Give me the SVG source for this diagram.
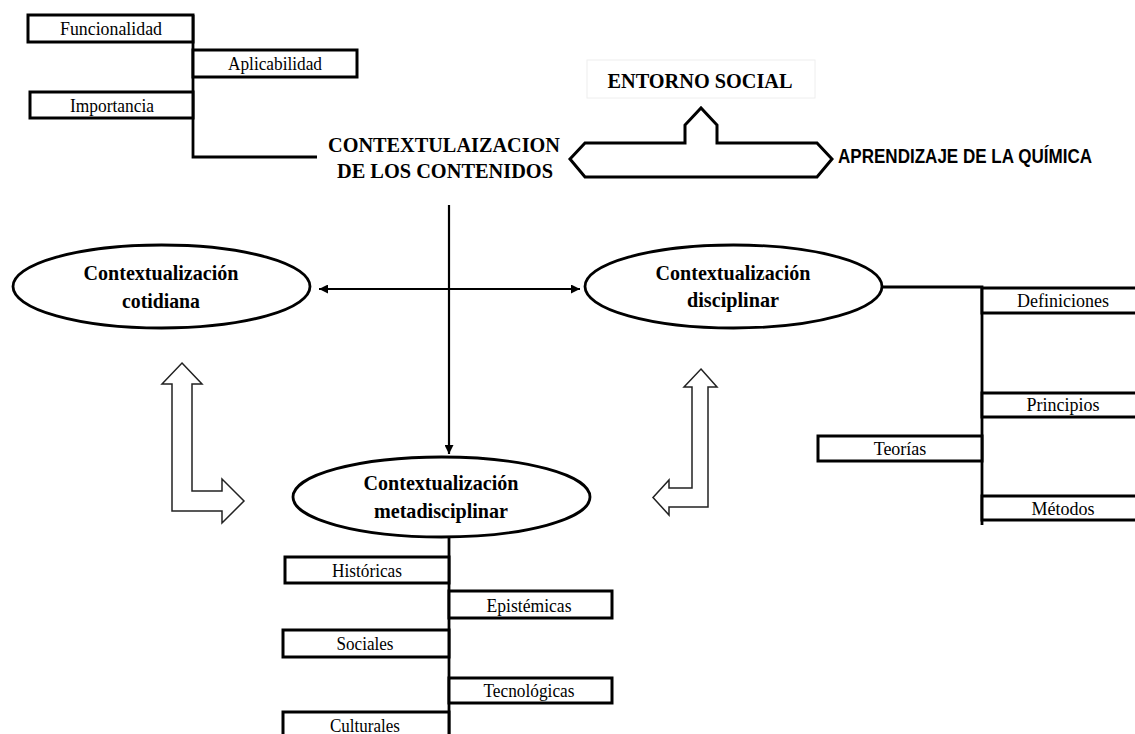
<svg xmlns="http://www.w3.org/2000/svg" width="1135" height="734" viewBox="0 0 1135 734">
<style>
.box{fill:#fff;stroke:#000;stroke-width:3}
.ell{fill:#fff;stroke:#000;stroke-width:2.8}
.ln{fill:none;stroke:#000;stroke-width:2.8}
.hol{fill:#fff;stroke:#222;stroke-width:1.5;stroke-linejoin:miter}
.lbl{font-family:"Liberation Serif","Times New Roman",serif;font-size:18px;fill:#000;text-anchor:middle}
.bt{font-family:"Liberation Serif","Times New Roman",serif;font-size:22px;font-weight:bold;fill:#000;text-anchor:middle}
.sans{font-family:"Liberation Sans",Arial,sans-serif;font-size:20px;font-weight:bold;fill:#000}
</style>
<defs>
<marker id="arr" viewBox="0 0 10 10" refX="10" refY="5" markerWidth="9" markerHeight="9" markerUnits="userSpaceOnUse" orient="auto-start-reverse">
<path d="M0,0 L10,5 L0,10 Z" fill="#000"/>
</marker>
</defs>
<rect width="1135" height="734" fill="#fff"/>

<g id="connectors">
<polyline class="ln" points="193,15 193,157 317,157"/>
<line x1="449" y1="205" x2="449" y2="454" stroke="#000" stroke-width="2.2" marker-end="url(#arr)"/>
<line x1="319" y1="289" x2="580" y2="289" stroke="#000" stroke-width="2.2" marker-start="url(#arr)" marker-end="url(#arr)"/>
<polyline class="ln" points="882,287 982,287 982,525"/>
<line class="ln" x1="449" y1="537" x2="449" y2="734"/>
<polygon id="arrow-left" class="hol" points="182,363 202,384 192,384 192,491 222,491 222,479 244,501 222,523 222,511 172,511 172,384 162,384"/>
<polygon id="arrow-right" class="hol" points="701,369 717,387 708,387 708,507 669,507 669,515 653,497.5 669,480 669,488 692,488 692,387 684,387"/>
</g>

<g id="funcionalidad"><rect class="box" x="28" y="15" width="165" height="27"/><text class="lbl" x="111" y="35" textLength="102" lengthAdjust="spacingAndGlyphs">Funcionalidad</text></g>
<g id="aplicabilidad"><rect class="box" x="193" y="50" width="164" height="27"/><text class="lbl" x="275" y="70" textLength="94" lengthAdjust="spacingAndGlyphs">Aplicabilidad</text></g>
<g id="importancia"><rect class="box" x="30" y="92" width="163" height="26"/><text class="lbl" x="112" y="112" textLength="84" lengthAdjust="spacingAndGlyphs">Importancia</text></g>

<g id="contextualizacion">
<text class="bt" x="444" y="152" textLength="232" lengthAdjust="spacingAndGlyphs">CONTEXTULAIZACION</text>
<text class="bt" x="445" y="178" textLength="216" lengthAdjust="spacingAndGlyphs">DE LOS CONTENIDOS</text>
</g>

<g id="entorno">
<rect x="587" y="60" width="228" height="38" fill="#fff" stroke="#eee" stroke-width="1"/>
<text class="bt" x="700" y="88" textLength="185" lengthAdjust="spacingAndGlyphs">ENTORNO SOCIAL</text>
</g>

<g id="hexagono">
<path d="M570,159 L585,143 L685,143 L685,125 L701,108 L717,125 L717,143 L817,143 L832,159 L817,177 L585,177 Z" fill="#fff" stroke="#000" stroke-width="3" stroke-linejoin="miter"/>
</g>

<g id="aprendizaje">
<text class="sans" x="838" y="163" textLength="254" lengthAdjust="spacingAndGlyphs">APRENDIZAJE DE LA QUÍMICA</text>
</g>

<g id="cotidiana">
<ellipse class="ell" cx="161.5" cy="286.5" rx="148.5" ry="41.5"/>
<text class="bt" x="161" y="280" textLength="155" lengthAdjust="spacingAndGlyphs">Contextualización</text>
<text class="bt" x="161" y="308" textLength="78" lengthAdjust="spacingAndGlyphs">cotidiana</text>
</g>

<g id="disciplinar">
<ellipse class="ell" cx="733.5" cy="286.5" rx="148.5" ry="41.5"/>
<text class="bt" x="733" y="280" textLength="155" lengthAdjust="spacingAndGlyphs">Contextualización</text>
<text class="bt" x="733" y="307" textLength="92" lengthAdjust="spacingAndGlyphs">disciplinar</text>
</g>

<g id="metadisciplinar">
<ellipse class="ell" cx="441.5" cy="497" rx="148.5" ry="40"/>
<text class="bt" x="441" y="490" textLength="155" lengthAdjust="spacingAndGlyphs">Contextualización</text>
<text class="bt" x="441" y="518" textLength="134" lengthAdjust="spacingAndGlyphs">metadisciplinar</text>
</g>

<g id="definiciones"><rect class="box" x="982" y="288" width="160" height="25"/><text class="lbl" x="1063" y="307">Definiciones</text></g>
<g id="principios"><rect class="box" x="982" y="393" width="160" height="24"/><text class="lbl" x="1063" y="411">Principios</text></g>
<g id="teorias"><rect class="box" x="818" y="436" width="164" height="25"/><text class="lbl" x="900" y="455">Teorías</text></g>
<g id="metodos"><rect class="box" x="982" y="496" width="160" height="24"/><text class="lbl" x="1063" y="515">Métodos</text></g>

<g id="historicas"><rect class="box" x="285" y="557" width="164" height="26"/><text class="lbl" x="367" y="577" textLength="70" lengthAdjust="spacingAndGlyphs">Históricas</text></g>
<g id="epistemicas"><rect class="box" x="449" y="591" width="163" height="27"/><text class="lbl" x="529" y="612" textLength="85" lengthAdjust="spacingAndGlyphs">Epistémicas</text></g>
<g id="sociales"><rect class="box" x="283" y="630" width="166" height="27"/><text class="lbl" x="365" y="650" textLength="57" lengthAdjust="spacingAndGlyphs">Sociales</text></g>
<g id="tecnologicas"><rect class="box" x="449" y="678" width="163" height="25"/><text class="lbl" x="529" y="697" textLength="91" lengthAdjust="spacingAndGlyphs">Tecnológicas</text></g>
<g id="culturales"><rect class="box" x="283" y="712" width="166" height="30"/><text class="lbl" x="365" y="732" textLength="70" lengthAdjust="spacingAndGlyphs">Culturales</text></g>
</svg>
